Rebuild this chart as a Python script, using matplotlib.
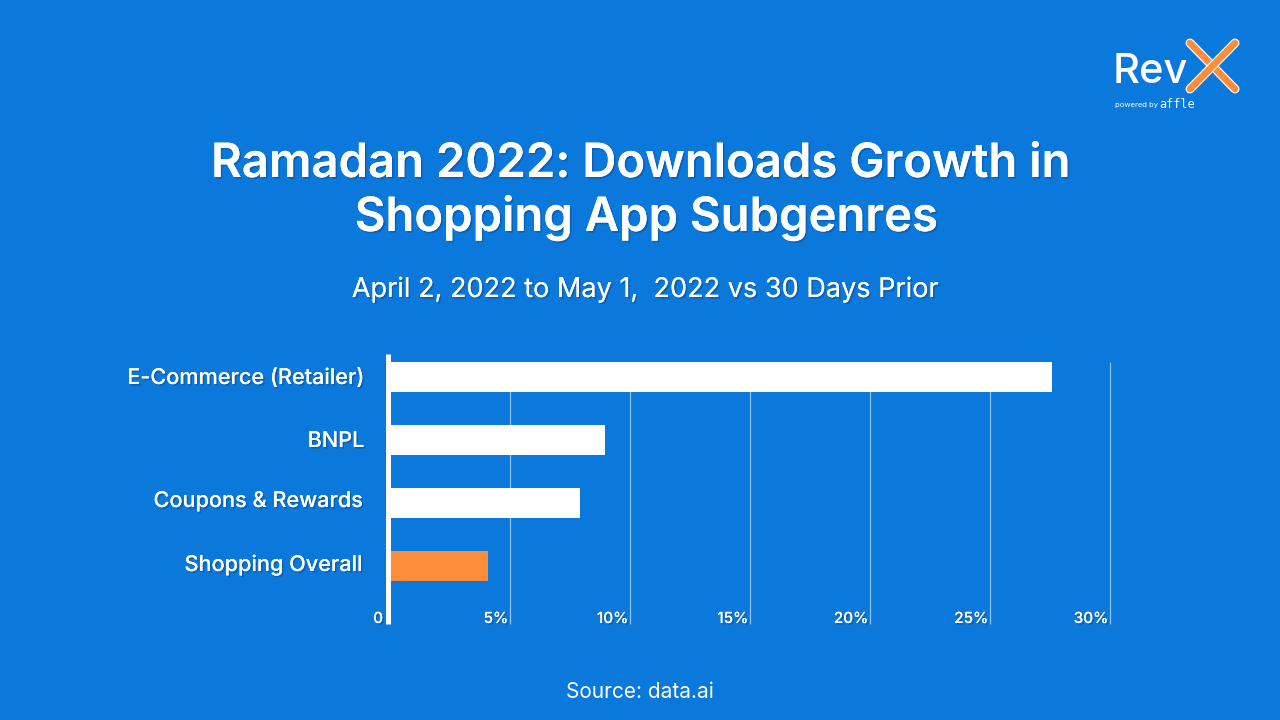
import matplotlib
matplotlib.use("Agg")
import matplotlib.pyplot as plt
import matplotlib.patheffects as pe
from matplotlib.lines import Line2D

categories = ["E-Commerce (Retailer)", "BNPL", "Coupons & Rewards", "Shopping Overall"]
growth = [27.6, 8.95, 7.9, 4.07]
tick_values = [0, 5, 10, 15, 20, 25, 30]
tick_labels = ["0", "5%", "10%", "15%", "20%", "25%", "30%"]

BG = "#0B78DC"
ORANGE = "#FF8C3A"
W, H = 1280, 720
FONT = ["Inter", "Open Sans", "DejaVu Sans"]
plt.rcParams["font.family"] = FONT

fig = plt.figure(figsize=(12.8, 7.2), dpi=100, facecolor=BG)
def fx(p): return p / W
def fy(p): return 1 - p / H

shadow = [pe.withSimplePatchShadow(offset=(1.2, -1.2), shadow_rgbFace="#0A3F78", alpha=0.4), pe.Normal()]

# Plot area: x 0-30 from 390 to 1110 px, y from 350 to 624 px
top, bottom = 350, 624
ax = fig.add_axes([fx(390), fy(bottom), fx(1110 - 390), (bottom - top) / H])
ax.set_facecolor("none")
ax.set_xlim(0, 30)
ax.set_ylim(bottom, top)
ypos = [377, 440, 503, 566]
label_base = [384, 447, 507, 571]
label_right = [-18, -18.5, -19.5, -19.5]
colors = ["white", "white", "white", ORANGE]
for x in tick_values[1:]:
    ax.plot([x - 0.02, x - 0.02], [362, 623.5], color="#8CC4F2", lw=0.9, zorder=1,
            solid_capstyle="butt", clip_on=False)
ax.barh(ypos, growth, height=30, color=colors, zorder=2)
ax.plot([-0.08, -0.08], [354, 623.5], color="white", lw=3.6, zorder=3, solid_capstyle="butt", clip_on=False)
for s in ax.spines.values():
    s.set_visible(False)
ax.set_xticks([])
ax.set_yticks([])

for x, lab in zip(tick_values, tick_labels):
    ax.annotate(lab, (x, 623), xytext=(-1.2 if x else -5, 0), textcoords="offset points",
                ha="right", va="baseline", color="white", fontsize=11, fontweight="medium",
                path_effects=shadow, annotation_clip=False)
for y, dx, lab in zip(label_base, label_right, categories):
    ax.annotate(lab, (0, y), xytext=(dx, 0), textcoords="offset points",
                ha="right", va="baseline", color="white", fontsize=15.6, fontweight="medium",
                path_effects=shadow, annotation_clip=False)

fig.text(fx(640), fy(177), "Ramadan 2022: Downloads Growth in", ha="center", va="baseline",
         color="white", fontsize=34, fontweight="semibold", path_effects=shadow)
fig.text(fx(645.5), fy(231), "Shopping App Subgenres", ha="center", va="baseline",
         color="white", fontsize=34, fontweight="semibold", path_effects=shadow)
fig.text(fx(645), fy(297), "April 2, 2022 to May 1,  2022 vs 30 Days Prior", ha="center", va="baseline",
         color="white", fontsize=19.5, path_effects=shadow)
fig.text(fx(640), fy(698), "Source: data.ai", ha="center", va="baseline", color="white", fontsize=15)

# Logo
fig.text(fx(1113), fy(83), "Rev", ha="left", va="baseline", color="white", fontsize=30, fontweight="medium")
for (x0, y0, x1, y1) in [(1190, 43, 1235, 89), (1235, 43, 1190, 89)]:
    fig.add_artist(Line2D([fx(x0), fx(x1)], [fy(y0), fy(y1)], transform=fig.transFigure,
                          color="white", lw=6.5, solid_capstyle="round"))
    fig.add_artist(Line2D([fx(x0), fx(x1)], [fy(y0), fy(y1)], transform=fig.transFigure,
                          color=ORANGE, lw=4.8, solid_capstyle="round"))
fig.text(fx(1115), fy(107), "powered by", ha="left", va="baseline", color="white", fontsize=5.5)
fig.text(fx(1159), fy(108), "affle", ha="left", va="baseline", color="white", fontsize=8.5, family="DejaVu Sans Mono")

fig.savefig("out.png", dpi=100, facecolor=BG)
